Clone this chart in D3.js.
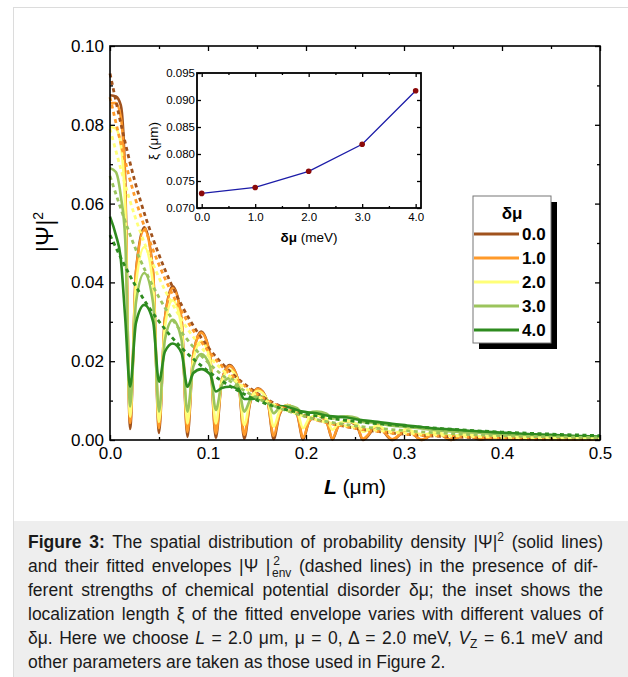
<!DOCTYPE html>
<html>
<head>
<meta charset="utf-8">
<script src="https://cdn.jsdelivr.net/npm/d3@7"></script>
<style>
  body { margin: 0; background: #fff; }
  svg { display: block; font-family: "Liberation Sans", Arial, sans-serif; }
</style>
</head>
<body>
<svg id="fig" width="628" height="677"></svg>
<script>
// ---- data ----
var L_SOLID = [0, 0.006, 0.011, 0.0155, 0.0205,
  0.0265, 0.035, 0.044, 0.050,
  0.056, 0.064, 0.073, 0.079,
  0.085, 0.093, 0.102, 0.108,
  0.114, 0.122, 0.131, 0.137,
  0.143, 0.151, 0.161, 0.167,
  0.173, 0.181, 0.191, 0.197,
  0.203, 0.211, 0.221, 0.227,
  0.233, 0.242, 0.252, 0.258,
  0.273, 0.288, 0.303, 0.318, 0.333, 0.348, 0.363, 0.378, 0.39, 0.42, 0.45, 0.48, 0.5];

var PSI_00 = [0.0875, 0.0872, 0.085, 0.066, 0.0028,
  0.0427, 0.054, 0.0425, 0.0018,
  0.0308, 0.039, 0.0306, 0.0008,
  0.0216, 0.0275, 0.0216, 0.0005,
  0.0149, 0.019, 0.0149, 0.0003,
  0.0095, 0.0131, 0.0096, 0.0002,
  0.0065, 0.0089, 0.0064, 0.0001,
  0.0046, 0.0062, 0.0046, 0.0001,
  0.0035, 0.0048, 0.0035, 0,
  0.0036, 0, 0.0026, 0, 0.0019, 0, 0.0013, 0.0001, 0.0005, 0.0003, 0.0002, 0.0001, 0.0001];

var PSI_10 = [0.0855, 0.0855, 0.082, 0.064, 0.0043,
  0.0425, 0.0533, 0.0422, 0.003,
  0.0307, 0.0385, 0.0305, 0.002,
  0.0217, 0.0272, 0.0216, 0.0016,
  0.015, 0.0188, 0.015, 0.0013,
  0.0097, 0.013, 0.0096, 0.001,
  0.0067, 0.0089, 0.0066, 0.0006,
  0.0047, 0.0063, 0.0046, 0.0004,
  0.0036, 0.0049, 0.0036, 0.0003,
  0.0037, 0.0002, 0.0027, 0.0001, 0.002, 0.0001, 0.0014, 0.0002, 0.0006, 0.0004, 0.0003, 0.0002, 0.0002];

var PSI_20 = [0.0795, 0.079, 0.075, 0.059, 0.0059,
  0.0395, 0.049, 0.0392, 0.0046,
  0.0287, 0.0355, 0.0286, 0.0042,
  0.0204, 0.025, 0.0204, 0.0042,
  0.0148, 0.0178, 0.0147, 0.0038,
  0.0101, 0.0125, 0.01, 0.0034,
  0.0073, 0.0088, 0.0072, 0.003,
  0.0054, 0.0063, 0.0053, 0.0026,
  0.0042, 0.0048, 0.0041, 0.0021,
  0.0036, 0.0017, 0.0027, 0.0013, 0.002, 0.001, 0.0015, 0.0009, 0.0011, 0.0008, 0.0006, 0.0005, 0.0004];

var PSI_30 = [0.069, 0.068, 0.062, 0.051, 0.0085,
  0.0349, 0.0424, 0.0347, 0.0072,
  0.0254, 0.0305, 0.0254, 0.0072,
  0.0186, 0.0218, 0.0187, 0.0076,
  0.0139, 0.0157, 0.0138, 0.0072,
  0.0101, 0.0112, 0.01, 0.0068,
  0.0082, 0.0087, 0.0081, 0.0062,
  0.0069, 0.0072, 0.0067, 0.0054,
  0.0058, 0.006, 0.0056, 0.0046,
  0.0043, 0.0036, 0.0033, 0.0029, 0.0025, 0.0022, 0.002, 0.0018, 0.0016, 0.0012, 0.001, 0.0008, 0.0006];

var PSI_40 = [0.0567, 0.052, 0.046, 0.031, 0.0135,
  0.0297, 0.0343, 0.03, 0.0148,
  0.0224, 0.0245, 0.0221, 0.0135,
  0.017, 0.018, 0.0167, 0.0123,
  0.0132, 0.0135, 0.013, 0.0104,
  0.0104, 0.0106, 0.0094, 0.0088,
  0.0086, 0.0084, 0.0076, 0.0072,
  0.007, 0.0068, 0.0062, 0.006,
  0.0059, 0.0057, 0.0052, 0.005,
  0.0046, 0.0041, 0.0037, 0.0033, 0.0029, 0.0027, 0.0024, 0.0022, 0.002, 0.0016, 0.0013, 0.001, 0.0009];

var L_ENV = [0, 0.025, 0.05, 0.075, 0.1, 0.125, 0.15, 0.2, 0.25, 0.3, 0.35, 0.4, 0.45, 0.5];
var ENV_00 = [0.093, 0.066, 0.047, 0.0333, 0.0236, 0.0168, 0.0119, 0.006, 0.003, 0.0015, 0.0008, 0.0004, 0.0002, 0.0001];
var ENV_10 = [0.087, 0.062, 0.0445, 0.0318, 0.0227, 0.0162, 0.0116, 0.0059, 0.003, 0.0015, 0.0009, 0.0005, 0.0003, 0.0002];
var ENV_20 = [0.079, 0.0571, 0.0412, 0.0298, 0.0215, 0.0156, 0.0112, 0.0059, 0.0032, 0.0018, 0.0011, 0.0007, 0.0005, 0.0003];
var ENV_30 = [0.067, 0.0492, 0.0362, 0.0267, 0.0197, 0.0145, 0.0107, 0.0059, 0.0036, 0.0024, 0.0016, 0.0011, 0.0008, 0.0006];
var ENV_40 = [0.052, 0.0396, 0.0301, 0.0229, 0.0175, 0.0133, 0.0101, 0.0066, 0.0047, 0.0036, 0.0027, 0.002, 0.0015, 0.0011];

var DMU = [0, 1, 2, 3, 4];
var XI = [0.0727, 0.0738, 0.0768, 0.0818, 0.0917];

var LEGEND_LABELS = ["0.0", "1.0", "2.0", "3.0", "4.0"];
var COLORS = ["#a0521d", "#ff9a2a", "#ffff78", "#9bc45c", "#2e8b1f"];

var X_TICKS = [0, 0.1, 0.2, 0.3, 0.4, 0.5];
var X_MINOR = [0.05, 0.15, 0.25, 0.35, 0.45];
var Y_TICKS = [0, 0.02, 0.04, 0.06, 0.08, 0.10];
var Y_MINOR = [0.01, 0.03, 0.05, 0.07, 0.09];
var IX_TICKS = [0, 1, 2, 3, 4];
var IX_MINOR = [0.5, 1.5, 2.5, 3.5];
var IY_TICKS = [0.070, 0.075, 0.080, 0.085, 0.090, 0.095];

var solids = [PSI_00, PSI_10, PSI_20, PSI_30, PSI_40];
var envs = [ENV_00, ENV_10, ENV_20, ENV_30, ENV_40];

var svg = d3.select("#fig");

// page frame and caption box
svg.append("rect").attr("x", 13.5).attr("y", 7.5).attr("width", 640).attr("height", 700)
    .attr("fill", "#fff").attr("stroke", "#dcdcdc");
svg.append("rect").attr("x", 14).attr("y", 521).attr("width", 614).attr("height", 156)
    .attr("fill", "#eeeeee");

// ---- main plot ----
var x = d3.scaleLinear().domain([0, 0.5]).range([110, 600]);
var y = d3.scaleLinear().domain([0, 0.1]).range([440, 46]);

var line = d3.line()
    .x(function (d) { return x(d[0]); })
    .y(function (d) { return y(d[1]); })
    .curve(d3.curveMonotoneX);

var plot = svg.append("g");

solids.forEach(function (s, i) {
  plot.append("path")
      .datum(L_SOLID.map(function (l, k) { return [l, s[k]]; }))
      .attr("d", line)
      .attr("fill", "none")
      .attr("stroke", COLORS[i])
      .attr("stroke-width", 2.6);
});

envs.forEach(function (s, i) {
  plot.append("path")
      .datum(L_ENV.map(function (l, k) { return [l, s[k]]; }))
      .attr("d", line)
      .attr("fill", "none")
      .attr("stroke", COLORS[i])
      .attr("stroke-width", 2.8)
      .attr("stroke-dasharray", "4,3.5");
});

function styleAxis(g, size) {
  g.select(".domain").remove();
  g.selectAll("line").attr("stroke", "#000").attr("stroke-width", 1.3);
  g.selectAll("text").attr("font-size", size).attr("fill", "#000")
      .attr("font-family", "'Liberation Sans', Arial, sans-serif");
}

svg.append("g").attr("transform", "translate(0,440)")
    .call(d3.axisBottom(x).tickValues(X_TICKS).tickSize(-5).tickPadding(7).tickFormat(d3.format(".1f")))
    .call(styleAxis, 17);
svg.append("g").attr("transform", "translate(0,440)")
    .call(d3.axisBottom(x).tickValues(X_MINOR).tickSize(-3).tickFormat(""))
    .call(styleAxis, 17);
svg.append("g").attr("transform", "translate(0,46)")
    .call(d3.axisTop(x).tickValues(X_TICKS).tickSize(-5).tickFormat(""))
    .call(styleAxis, 17);
svg.append("g").attr("transform", "translate(0,46)")
    .call(d3.axisTop(x).tickValues(X_MINOR).tickSize(-3).tickFormat(""))
    .call(styleAxis, 17);
svg.append("g").attr("transform", "translate(110,0)")
    .call(d3.axisLeft(y).tickValues(Y_TICKS).tickSize(-5).tickPadding(6).tickFormat(d3.format(".2f")))
    .call(styleAxis, 17);
svg.append("g").attr("transform", "translate(110,0)")
    .call(d3.axisLeft(y).tickValues(Y_MINOR).tickSize(-3).tickFormat(""))
    .call(styleAxis, 17);
svg.append("g").attr("transform", "translate(600,0)")
    .call(d3.axisRight(y).tickValues(Y_TICKS).tickSize(-5).tickFormat(""))
    .call(styleAxis, 17);
svg.append("g").attr("transform", "translate(600,0)")
    .call(d3.axisRight(y).tickValues(Y_MINOR).tickSize(-3).tickFormat(""))
    .call(styleAxis, 17);

svg.append("rect").attr("x", 110).attr("y", 46).attr("width", 490).attr("height", 394)
    .attr("fill", "none").attr("stroke", "#000").attr("stroke-width", 1.6);

// axis titles
var yl = svg.append("text").attr("transform", "translate(53,232) rotate(-90)")
    .attr("text-anchor", "middle").attr("font-size", 24);
yl.append("tspan").text("|Ψ|");
yl.append("tspan").attr("font-size", 14).attr("dy", -10).text("2");

var xl = svg.append("text").attr("x", 355).attr("y", 494)
    .attr("text-anchor", "middle").attr("font-size", 21);
xl.append("tspan").attr("font-weight", "bold").attr("font-style", "italic").text("L");
xl.append("tspan").text(" (μm)");

// ---- inset ----
var xi = d3.scaleLinear().domain([-0.088, 4.1]).range([197, 421]);
var yi = d3.scaleLinear().domain([0.070, 0.095]).range([208, 73]);

svg.append("rect").attr("x", 197).attr("y", 73).attr("width", 224).attr("height", 135).attr("fill", "#fff");

svg.append("g").attr("transform", "translate(0,208)")
    .call(d3.axisBottom(xi).tickValues(IX_TICKS).tickSize(-4).tickPadding(5).tickFormat(d3.format(".1f")))
    .call(styleAxis, 11.5);
svg.append("g").attr("transform", "translate(0,208)")
    .call(d3.axisBottom(xi).tickValues(IX_MINOR).tickSize(-2).tickFormat(""))
    .call(styleAxis, 11.5);
svg.append("g").attr("transform", "translate(0,73)")
    .call(d3.axisTop(xi).tickValues(IX_TICKS).tickSize(-4).tickFormat(""))
    .call(styleAxis, 11.5);
svg.append("g").attr("transform", "translate(0,73)")
    .call(d3.axisTop(xi).tickValues(IX_MINOR).tickSize(-2).tickFormat(""))
    .call(styleAxis, 11.5);
svg.append("g").attr("transform", "translate(197,0)")
    .call(d3.axisLeft(yi).tickValues(IY_TICKS).tickSize(-4).tickPadding(2).tickFormat(d3.format(".3f")))
    .call(styleAxis, 11.5);
svg.append("g").attr("transform", "translate(421,0)")
    .call(d3.axisRight(yi).tickValues(IY_TICKS).tickSize(-4).tickFormat(""))
    .call(styleAxis, 11.5);

svg.append("path")
    .datum(DMU.map(function (d, k) { return [d, XI[k]]; }))
    .attr("d", d3.line().x(function (d) { return xi(d[0]); }).y(function (d) { return yi(d[1]); }))
    .attr("fill", "none").attr("stroke", "#1c1ca8").attr("stroke-width", 1.3);

svg.selectAll(".pt").data(DMU).enter().append("circle")
    .attr("class", "pt")
    .attr("cx", function (d) { return xi(d); })
    .attr("cy", function (d, k) { return yi(XI[k]); })
    .attr("r", 2.8).attr("fill", "#8b0a0a");

svg.append("rect").attr("x", 197).attr("y", 73).attr("width", 224).attr("height", 135)
    .attr("fill", "none").attr("stroke", "#000").attr("stroke-width", 1.8);

var ixl = svg.append("text").attr("x", 309).attr("y", 242).attr("text-anchor", "middle").attr("font-size", 13.5);
ixl.append("tspan").attr("font-weight", "bold").text("δμ");
ixl.append("tspan").text(" (meV)");

svg.append("text").attr("transform", "translate(158,141) rotate(-90)")
    .attr("text-anchor", "middle").attr("font-size", 13.5).text("ξ (μm)");

// ---- legend ----
var leg = svg.append("g");
leg.append("rect").attr("x", 479).attr("y", 202).attr("width", 78).attr("height", 147).attr("fill", "#000");
leg.append("rect").attr("x", 473).attr("y", 196).attr("width", 78).attr("height", 147)
    .attr("fill", "#fff").attr("stroke", "#777").attr("stroke-width", 1);
leg.append("text").attr("x", 512).attr("y", 219).attr("text-anchor", "middle")
    .attr("font-size", 17).attr("font-weight", "bold").text("δμ");

var ly = d3.scalePoint().domain(LEGEND_LABELS).range([234, 330]);
LEGEND_LABELS.forEach(function (lab, i) {
  leg.append("line").attr("x1", 474).attr("x2", 519)
      .attr("y1", ly(lab)).attr("y2", ly(lab))
      .attr("stroke", COLORS[i]).attr("stroke-width", 3);
  leg.append("text").attr("x", 522).attr("y", ly(lab) + 6)
      .attr("font-size", 17).attr("font-weight", "bold").text(lab);
});

// ---- caption (justified lines) ----
var cap = svg.append("g").attr("transform", "translate(28,0)")
    .attr("font-size", 17.5).attr("fill", "#1a1a1a");
var lines = [
  { y: 548, w: 575 },
  { y: 572, w: 575 },
  { y: 596, w: 575 },
  { y: 620, w: 575 },
  { y: 644, w: 575 },
  { y: 668, w: 0 }
];
var capTexts = [];
function capLine(i) {
  var t = cap.append("text").attr("x", 0).attr("y", lines[i].y);
  capTexts.push(t);
  return t;
}
var c1 = capLine(0);
c1.append("tspan").attr("font-weight", "bold").text("Figure 3:");
c1.append("tspan").text(" The spatial distribution of probability density |Ψ|");
c1.append("tspan").attr("font-size", 12).attr("dy", -7).text("2");
c1.append("tspan").attr("dy", 7).text(" (solid lines)");

var c2 = capLine(1);
c2.append("tspan").text("and their fitted envelopes |Ψ |");
c2.append("tspan").attr("font-size", 12).attr("dy", -7).attr("dx", 3).text("2");
c2.append("tspan").attr("font-size", 12).attr("dy", 12).attr("dx", -8).text("env");
c2.append("tspan").attr("dy", -5).text(" (dashed lines) in the presence of dif-");

capLine(2).text("ferent strengths of chemical potential disorder δμ; the inset shows the");
capLine(3).text("localization length ξ of the fitted envelope varies with different values of");

var c5 = capLine(4);
c5.append("tspan").text("δμ. Here we choose ");
c5.append("tspan").attr("font-style", "italic").text("L");
c5.append("tspan").text(" = 2.0 μm, μ = 0, Δ = 2.0 meV, ");
c5.append("tspan").attr("font-style", "italic").text("V");
c5.append("tspan").attr("font-size", 12).attr("dy", 4).text("Z");
c5.append("tspan").attr("dy", -4).text(" = 6.1 meV and");

capLine(5).text("other parameters are taken as those used in Figure 2.");

// justify lines 1-5 by adjusting word gaps
capTexts.forEach(function (t, i) {
  if (!lines[i].w) return;
  var node = t.node();
  var natural = node.getComputedTextLength();
  var gaps = (node.textContent.match(/ /g) || []).length;
  t.attr("word-spacing", (lines[i].w - natural) / gaps);
});
</script>
</body>
</html>
